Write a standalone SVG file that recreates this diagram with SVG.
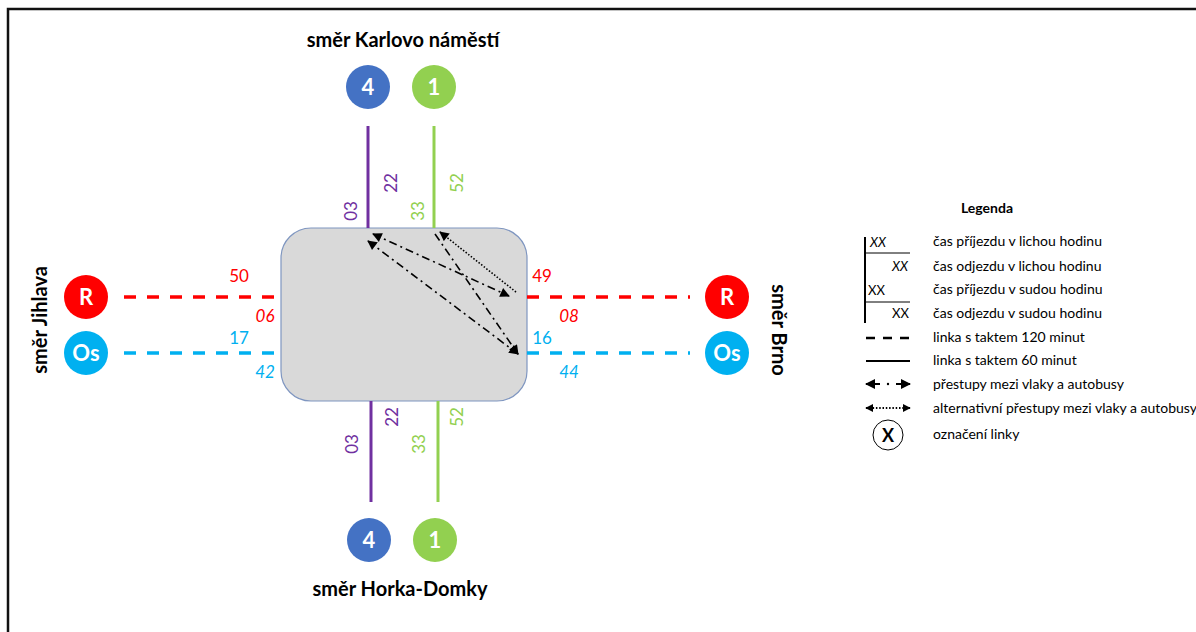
<svg xmlns="http://www.w3.org/2000/svg" width="1196" height="632" viewBox="0 0 1196 632">
  <style>
    .num { font-family: Lato, "Liberation Sans", sans-serif; font-size: 17px; }
    .it { font-style: italic; }
    .title { font-family: Lato, "Liberation Sans", sans-serif; font-size: 20px; font-weight: bold; fill: #000; }
    .badge { font-family: Lato, "Liberation Sans", sans-serif; font-size: 22px; font-weight: bold; fill: #fff; text-anchor: middle; }
    .leg { font-family: Lato, "Liberation Sans", sans-serif; font-size: 14px; fill: #000; }
    .xx { font-family: Lato, "Liberation Sans", sans-serif; font-size: 13px; fill: #000; }
    .mark { font-family: Lato, "Liberation Sans", sans-serif; font-size: 18px; font-weight: bold; fill: #000; text-anchor: middle; }
    .red { fill: #ff0000; }
    .blue { fill: #00b0f0; }
    .purple { fill: #7030a0; }
    .green { fill: #92d050; }
    .dash-red { stroke: #ff0000; stroke-width: 3.5; stroke-dasharray: 12 11; fill: none; }
    .dash-blue { stroke: #00b0f0; stroke-width: 3.5; stroke-dasharray: 12 11; fill: none; }
    .solid-purple { stroke: #7030a0; stroke-width: 3; fill: none; }
    .solid-green { stroke: #92d050; stroke-width: 3; fill: none; }
    .transfer { stroke: #000; stroke-width: 1.6; stroke-dasharray: 8 4 2 4; fill: none; }
    .alt { stroke: #000; stroke-width: 1.6; stroke-dasharray: 1.5 1.8; fill: none; }
  </style>
  <defs>
    <marker id="arrow" viewBox="0 0 10 10" refX="9" refY="5" markerWidth="6.5" markerHeight="6" orient="auto-start-reverse" markerUnits="strokeWidth">
      <path d="M0,0 L10,5 L0,10 Z" fill="#000"/>
    </marker>
    <marker id="arrowLeg" viewBox="0 0 10 10" refX="9" refY="5" markerWidth="5" markerHeight="5" orient="auto-start-reverse" markerUnits="strokeWidth">
      <path d="M0,0 L10,5 L0,10 Z" fill="#000"/>
    </marker>
    <marker id="arrowSmall" viewBox="0 0 10 10" refX="9" refY="5" markerWidth="4.5" markerHeight="4.5" orient="auto-start-reverse" markerUnits="strokeWidth">
      <path d="M0,0 L10,5 L0,10 Z" fill="#000"/>
    </marker>
  </defs>

  <rect width="1196" height="632" fill="#fff"/>
  <!-- page frame -->
  <path d="M8,640 V9 H1200" fill="none" stroke="#111" stroke-width="2.5"/>

  <!-- station -->
  <g id="station">
    <rect x="281" y="228" width="246" height="173" rx="30" ry="30" fill="#d9d9d9" stroke="#7f96c0" stroke-width="1.2"/>
  </g>

  <!-- lines and transfer arrows -->
  <g id="connectors">
    <line class="solid-purple" x1="368" y1="126" x2="368" y2="228"/>
    <line class="solid-green" x1="434" y1="126" x2="434" y2="228"/>
    <line class="solid-purple" x1="371" y1="401" x2="371" y2="502"/>
    <line class="solid-green" x1="438" y1="401" x2="438" y2="502"/>
    <line class="dash-red" x1="124" y1="297" x2="281" y2="297"/>
    <line class="dash-blue" x1="124" y1="353" x2="281" y2="353"/>
    <line class="dash-red" x1="527" y1="297" x2="690" y2="297"/>
    <line class="dash-blue" x1="527" y1="353" x2="690" y2="353"/>

    <line class="transfer" x1="373" y1="234" x2="509" y2="296" marker-start="url(#arrow)" marker-end="url(#arrow)"/>
    <line class="transfer" x1="368" y1="241" x2="518" y2="354" marker-start="url(#arrow)" marker-end="url(#arrow)"/>
    <line class="transfer" x1="435" y1="234" x2="518" y2="354" marker-end="url(#arrow)"/>
    <line class="alt" x1="516" y1="292" x2="440" y2="232" marker-end="url(#arrow)"/>
  </g>

  <!-- times -->
  <g id="times">
    <text class="num purple" text-anchor="middle" transform="translate(357,211) rotate(-90)">03</text>
    <text class="num purple" text-anchor="middle" transform="translate(397,183) rotate(-90)">22</text>
    <text class="num green" text-anchor="middle" transform="translate(424,211) rotate(-90)">33</text>
    <text class="num green" text-anchor="middle" transform="translate(463,183) rotate(-90)">52</text>

    <text class="num purple" text-anchor="middle" transform="translate(358,444) rotate(-90)">03</text>
    <text class="num purple" text-anchor="middle" transform="translate(398,417) rotate(-90)">22</text>
    <text class="num green" text-anchor="middle" transform="translate(425,444) rotate(-90)">33</text>
    <text class="num green" text-anchor="middle" transform="translate(463,417) rotate(-90)">52</text>

    <text class="num red" x="239" y="282" text-anchor="middle">50</text>
    <text class="num red it" x="265" y="322" text-anchor="middle">06</text>
    <text class="num blue" x="239" y="344" text-anchor="middle">17</text>
    <text class="num blue it" x="265" y="378" text-anchor="middle">42</text>

    <text class="num red" x="542" y="282" text-anchor="middle">49</text>
    <text class="num red it" x="569" y="322" text-anchor="middle">08</text>
    <text class="num blue" x="542" y="344" text-anchor="middle">16</text>
    <text class="num blue it" x="569" y="378" text-anchor="middle">44</text>
  </g>

  <!-- line badges -->
  <g id="line-4-north"><circle cx="368" cy="87" r="22" fill="#4472c4"/><text class="badge" x="368" y="95">4</text></g>
  <g id="line-1-north"><circle cx="434" cy="87" r="22" fill="#92d050"/><text class="badge" x="434" y="95">1</text></g>
  <g id="line-4-south"><circle cx="369" cy="540" r="22" fill="#4472c4"/><text class="badge" x="369" y="548">4</text></g>
  <g id="line-1-south"><circle cx="435" cy="540" r="22" fill="#92d050"/><text class="badge" x="435" y="548">1</text></g>
  <g id="line-R-west"><circle cx="86" cy="297" r="22" fill="#ff0000"/><text class="badge" x="86" y="305">R</text></g>
  <g id="line-Os-west"><circle cx="86" cy="353" r="22" fill="#00b0f0"/><text class="badge" x="86" y="361">Os</text></g>
  <g id="line-R-east"><circle cx="727" cy="297" r="22" fill="#ff0000"/><text class="badge" x="727" y="305">R</text></g>
  <g id="line-Os-east"><circle cx="727" cy="353" r="22" fill="#00b0f0"/><text class="badge" x="727" y="361">Os</text></g>

  <!-- directions -->
  <g id="directions">
    <text class="title" x="403" y="47" text-anchor="middle">směr Karlovo náměstí</text>
    <text class="title" x="400" y="596" text-anchor="middle">směr Horka-Domky</text>
    <text class="title" text-anchor="middle" transform="translate(47,320) rotate(-90)">směr Jihlava</text>
    <text class="title" text-anchor="middle" transform="translate(772,330) rotate(90)">směr Brno</text>
  </g>

  <!-- legend -->
  <g id="legend">
    <text class="leg" x="987" y="213" text-anchor="middle" font-weight="bold">Legenda</text>
    <line x1="865" y1="237" x2="865" y2="323" stroke="#000" stroke-width="2"/>
    <line x1="865" y1="253" x2="910" y2="253" stroke="#000" stroke-width="1"/>
    <line x1="865" y1="302" x2="910" y2="302" stroke="#000" stroke-width="1"/>
    <text class="xx it" x="870" y="247">XX</text>
    <text class="xx it" x="892" y="271">XX</text>
    <text class="xx" x="868" y="295">XX</text>
    <text class="xx" x="892" y="318">XX</text>
    <line x1="866" y1="338" x2="910" y2="338" stroke="#000" stroke-width="2.5" stroke-dasharray="9 8"/>
    <line x1="866" y1="361" x2="910" y2="361" stroke="#000" stroke-width="2"/>
    <line x1="866" y1="384" x2="880" y2="384" stroke="#000" stroke-width="2" marker-start="url(#arrowLeg)"/>
    <circle cx="888" cy="384" r="1.2" fill="#000"/>
    <line x1="896" y1="384" x2="910" y2="384" stroke="#000" stroke-width="2" marker-end="url(#arrowLeg)"/>
    <line x1="866" y1="408" x2="910" y2="408" stroke="#000" stroke-width="1.8" stroke-dasharray="1.5 1.8" marker-start="url(#arrowSmall)" marker-end="url(#arrowSmall)"/>
    <circle cx="888" cy="435" r="15" fill="#fff" stroke="#000" stroke-width="1"/>
    <text class="mark" x="888" y="441.5">X</text>

    <text class="leg" x="933" y="246">čas příjezdu v lichou hodinu</text>
    <text class="leg" x="933" y="271">čas odjezdu v lichou hodinu</text>
    <text class="leg" x="933" y="294">čas příjezdu v sudou hodinu</text>
    <text class="leg" x="933" y="318">čas odjezdu v sudou hodinu</text>
    <text class="leg" x="933" y="342">linka s taktem 120 minut</text>
    <text class="leg" x="933" y="365">linka s taktem 60 minut</text>
    <text class="leg" x="933" y="389">přestupy mezi vlaky a autobusy</text>
    <text class="leg" x="933" y="413">alternativní přestupy mezi vlaky a autobusy</text>
    <text class="leg" x="933" y="439">označení linky</text>
  </g>
</svg>
